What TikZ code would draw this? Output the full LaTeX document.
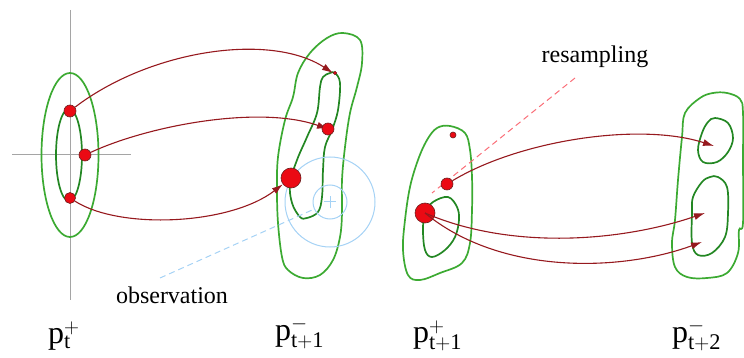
\documentclass[tikz,border=0pt]{standalone}
\usepackage{fontspec}
\setmainfont{Liberation Serif}
\usetikzlibrary{arrows.meta}
\definecolor{outg}{RGB}{60,170,50}
\definecolor{ing}{RGB}{35,135,35}
\definecolor{dotred}{RGB}{235,10,20}
\definecolor{dotedge}{RGB}{110,30,30}
\definecolor{arrred}{RGB}{150,25,30}
\definecolor{obsblue}{RGB}{165,210,245}
\definecolor{rspink}{RGB}{250,110,120}
\definecolor{axgray}{RGB}{165,165,165}
\pgfdeclarelayer{bg}\pgfdeclarelayer{fg}\pgfsetlayers{bg,main,fg}
\begin{document}
\begin{tikzpicture}[x=1pt,y=-1pt,
  outer/.style={draw=outg,line width=1.7pt},
  inner/.style={draw=ing,line width=1.7pt},
  dot/.style={circle,fill=dotred,draw=dotedge,line width=0.6pt,inner sep=0pt},
  flow/.style={draw=arrred,line width=1.1pt,-{Latex[length=11pt,width=7pt]}},
  axis/.style={draw=axgray,line width=1pt},
  obs/.style={draw=obsblue,line width=1pt},
  lab/.style={font=\fontsize{32}{36}\selectfont,inner sep=0pt},
  word/.style={font=\fontsize{24}{28}\selectfont,inner sep=0pt}]
\useasboundingbox (0,0) rectangle (744,358);

% ---------- dots ----------
\node[dot,minimum size=12pt] (d1) at (70,111) {};
\node[dot,minimum size=12pt] (d2) at (85,155) {};
\node[dot,minimum size=11pt] (d3) at (70,198) {};
\node[dot,minimum size=3.5pt] (e1) at (335,73) {};
\node[dot,minimum size=12pt] (e2) at (328,129) {};
\node[dot,minimum size=20pt] (e3) at (291,178) {};
\node[dot,minimum size=6pt] (f1) at (453,135) {};
\node[dot,minimum size=12pt] (f2) at (447,184) {};
\node[dot,minimum size=20pt] (f3) at (425,213) {};

% arrow targets and line ends
\coordinate (g1) at (714,146);
\coordinate (g2) at (705,213);
\coordinate (g3) at (702,242);
\coordinate (obsstart) at (160,278);
\coordinate (rs1) at (575,78);
\coordinate (rs2) at (432,193);

\begin{pgfonlayer}{bg}
% axes
\draw[axis] (70,10) -- (70,300);
\draw[axis] (12,155) -- (131,155);
% panel 1 ellipses
\draw[outer] (70,155) ellipse [x radius=28.5pt, y radius=82pt];
\draw[inner] (69,155) ellipse [x radius=13pt, y radius=46pt];
% panel 2 contours
\draw[outer] plot[smooth cycle,tension=0.6] coordinates {
 (343,33) (360,40) (362,63) (357,87) (350,113) (345,147) (342,180) (342,213)
 (340,237) (333,260) (320,275) (303,278) (288,270) (282,257) (278,223)
 (277,190) (278,157) (285,120) (293,97) (298,73) (310,53) (327,38)};
\draw[inner] plot[smooth cycle,tension=0.6] coordinates {
 (335,73) (340,83) (338,110) (332,130) (325,147) (323,170) (322,197)
 (318,212) (307,218) (300,217) (292,203) (290,183) (297,160) (307,137)
 (317,113) (320,87) (323,77) (330,73)};
% observation
\node[obs,circle,minimum size=90pt,inner sep=0pt] (obsout) at (330,202) {};
\node[obs,circle,minimum size=34pt,inner sep=0pt] (obsin) at (330,202) {};
\draw[obs] ([xshift=-6pt]obsin.center) -- ([xshift=6pt]obsin.center);
\draw[obs] ([yshift=-6pt]obsin.center) -- ([yshift=6pt]obsin.center);
\draw[obs,dashed,dash pattern=on 6pt off 4pt] (obsstart) -- (obsin);
% panel 3 contours
\draw[outer] plot[smooth cycle,tension=0.6] coordinates {
 (450,126) (465,133) (470,150) (472,177) (472,210) (470,243) (462,263)
 (440,273) (420,280) (408,275) (403,250) (405,220) (410,187) (418,160)
 (427,140) (437,128)};
\draw[inner] plot[smooth cycle,tension=0.6] coordinates {
 (448,197) (457,207) (459,220) (455,237) (445,250) (432,257) (425,250)
 (423,230) (425,213) (433,202)};
% resampling line
\draw[draw=rspink,line width=1pt,dash pattern=on 6pt off 4pt] (rs1) -- (rs2);
% panel 4 contours
\draw[outer] plot[smooth cycle,tension=0.6] coordinates {
 (727,93) (740,99) (743,113) (743,160) (743,223) (739,230) (738,253)
 (727,273) (707,278) (687,277) (675,267) (672,243) (675,220) (678,180)
 (682,137) (685,113) (700,98) (713,93)};
\draw[inner] plot[smooth cycle,tension=0.6] coordinates {
 (715,118) (728,123) (733,138) (728,152) (717,162) (703,162) (698,150)
 (702,133) (708,122)};
\draw[inner] plot[smooth cycle,tension=0.6] coordinates {
 (718,177) (727,187) (728,213) (725,237) (712,253) (698,255) (692,243)
 (692,213) (693,197) (702,182) (710,177)};
% arrows panel 1 -> 2
\draw[flow] (d1) .. controls (150,50) and (270,32) .. (e1.west);
\draw[flow] (d2) .. controls (150,125) and (260,105) .. (e2.center);
\draw[flow] (d3) .. controls (120,230) and (230,225) .. (e3);
% arrow panel 3 -> 4 from medium dot
\draw[flow] (f2) .. controls (520,140) and (640,122) .. (g1);
\end{pgfonlayer}

\begin{pgfonlayer}{fg}
\draw[flow] (f3.center) .. controls (510,250) and (620,242) .. (g2);
\draw[flow] (f3.center) .. controls (500,275) and (620,272) .. (g3);
\end{pgfonlayer}

% texts
\node[word] (obstext) at (172,295) {observation};
\node[word] (rstext) at (595,57) {resampling};
\node[lab,anchor=base west] (l1) at (48,343) {$\mathrm{p}^{+}_{\mathrm{t}}$};
\node[lab,anchor=base west] (l2) at (275,340) {$\mathrm{p}^{-}_{\mathrm{t+1}}$};
\node[lab,anchor=base west] (l3) at (413,342) {$\mathrm{p}^{+}_{\mathrm{t+1}}$};
\node[lab,anchor=base west] (l4) at (672,342) {$\mathrm{p}^{-}_{\mathrm{t+2}}$};
\end{tikzpicture}
\end{document}
